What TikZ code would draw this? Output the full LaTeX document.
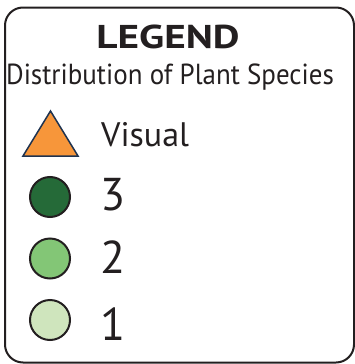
\documentclass[tikz,border=0pt]{standalone}
\usepackage{fontspec}
\setmainfont{PT Sans}

\definecolor{inkc}{HTML}{231F20}
\definecolor{navyc}{HTML}{1F3350}
\definecolor{orangec}{HTML}{F7963A}
\definecolor{darkgreen}{HTML}{256A38}
\definecolor{midgreen}{HTML}{83C676}
\definecolor{palegreen}{HTML}{CFE5BD}

\tikzset{
  legend frame/.style={draw=inkc, line width=2pt, rounded corners=18pt},
  dot/.style={circle, draw=inkc, line width=2pt, minimum size=40pt, inner sep=0},
  key label/.style={anchor=base west, inner sep=0, text=inkc},
}

\begin{document}
\begin{tikzpicture}[x=1pt, y=-1pt]
    \useasboundingbox (0,0) rectangle (355,364);

    % Frame (partly cut by the page edge)
    \begin{scope}
      \clip (0,0) rectangle (355,364);
      \draw[legend frame] (5,7.5) rectangle (354,362.5);
    \end{scope}

    % Title
    \node[inner sep=0, anchor=base, text=inkc, xscale=1.25, transform shape,
          font=\fontsize{33}{36}\selectfont\bfseries] (title) at (168,48) {LEGEND};
    \node[inner sep=0, anchor=base, text=inkc, xscale=0.93, transform shape,
          font=\fontsize{29}{32}\selectfont] (subtitle) at (170,84) {Distribution of Plant Species};

    % Visual sighting
    \draw[fill=orangec, draw=navyc, line width=1.5pt]
      (23,156) -- (50.5,111) -- (78,156) -- cycle;
    \node[key label, font=\fontsize{34}{36}\selectfont] (visual) at (101,146) {Visual};

    % Species counts
    \foreach \n/\cy/\by/\col in {3/197/210/darkgreen, 2/258.5/273/midgreen, 1/320/340/palegreen} {
      \node[dot, fill=\col] (dot\n) at (50,\cy) {};
      \node[key label, font=\fontsize{46}{48}\selectfont] (count\n) at (100,\by) {\n};
    }
\end{tikzpicture}
\end{document}
